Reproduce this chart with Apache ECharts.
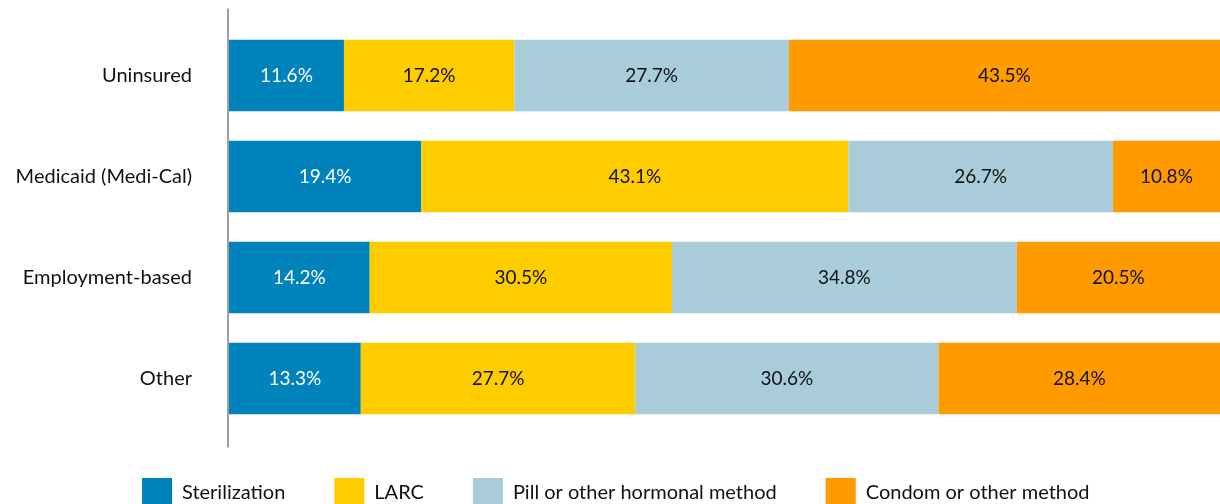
<!DOCTYPE html>
<html><head><meta charset="utf-8">
<script src="https://cdn.jsdelivr.net/npm/echarts@6/dist/echarts.min.js"></script>
<style>html,body{margin:0;padding:0;background:#fff}#c{width:1220px;height:504px}</style>
</head><body><div id="c"></div>
<script>
const categories = ['Uninsured', 'Medicaid (Medi-Cal)', 'Employment-based', 'Other'];
const seriesNames = ['Sterilization', 'LARC', 'Pill or other hormonal method', 'Condom or other method'];
const sterilization = [11.6, 19.4, 14.2, 13.3];
const larc = [17.2, 43.1, 30.5, 27.7];
const pill = [27.7, 26.7, 34.8, 30.6];
const condom = [43.5, 10.8, 20.5, 28.4];
const colors = ['#0083BB', '#FFCC00', '#A8CCDA', '#FF9A00'];
const labelColors = ['#ffffff', '#111111', '#111111', '#111111'];
const values = [sterilization, larc, pill, condom];
const FONT = 'Lato';

const chart = echarts.init(document.getElementById('c'));
chart.setOption({
  animation: false,
  textStyle: { fontFamily: FONT },
  grid: [
    { left: 229, right: 0, top: 25, height: 404 },
    { left: 228, width: 1, top: 9, bottom: 57 }
  ],
  legend: {
    top: 473, left: 137,
    itemWidth: 30, itemHeight: 30, itemGap: 49,
    icon: 'rect',
    textStyle: { fontFamily: FONT, fontSize: 20, color: '#111', padding: [0, 0, 0, 5] },
    data: seriesNames
  },
  xAxis: [
    { type: 'value', gridIndex: 0, min: 0, max: 100, show: false },
    { type: 'value', gridIndex: 1, show: false }
  ],
  yAxis: [
    { type: 'category', gridIndex: 0, data: categories, inverse: true,
      axisLine: { show: false }, axisTick: { show: false },
      axisLabel: { fontFamily: FONT, fontSize: 20, color: '#111', margin: 37 } },
    { type: 'value', gridIndex: 1, min: 0, max: 1,
      axisLine: { show: true, lineStyle: { color: '#7f7f7f', width: 1.5 } },
      axisTick: { show: false }, axisLabel: { show: false }, splitLine: { show: false } }
  ],
  series: seriesNames.map((n, i) => ({
    name: n, type: 'bar', stack: 'total', xAxisIndex: 0, yAxisIndex: 0,
    barCategoryGap: '29%',
    itemStyle: { color: colors[i] },
    label: { show: true, position: 'inside', fontFamily: FONT, fontSize: 19,
      color: labelColors[i], formatter: p => p.value.toFixed(1) + '%' },
    data: values[i]
  }))
});
</script></body></html>
